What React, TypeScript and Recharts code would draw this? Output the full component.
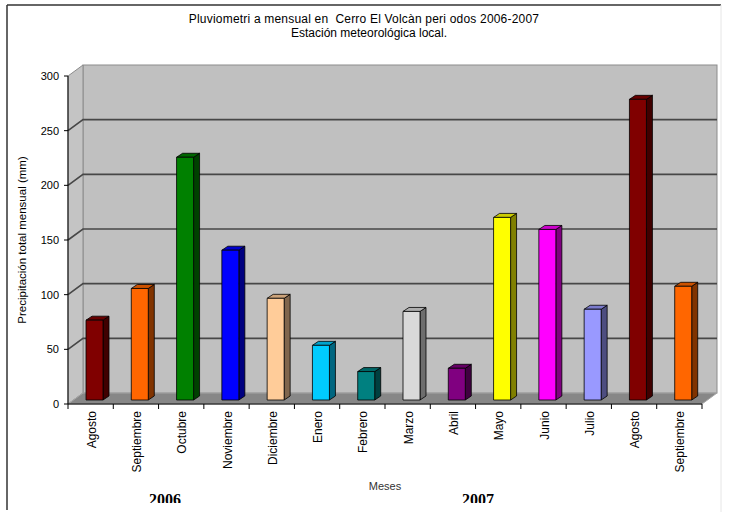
import { BarChart, Bar, XAxis, YAxis, Cell, ReferenceArea } from 'recharts';

// Lluvia mensual (mm), agosto 2006 - septiembre 2007
const MESES = [
  'Agosto', 'Septiembre', 'Octubre', 'Noviembre', 'Diciembre',
  'Enero', 'Febrero', 'Marzo', 'Abril', 'Mayo', 'Junio', 'Julio', 'Agosto', 'Septiembre',
];
const PRECIPITACION = [73, 102, 222, 137, 93, 50, 26, 81, 29, 167, 156, 83, 275, 104];
const COLORES = [
  '#800000', '#ff6600', '#008000', '#0000ff', '#ffcc99', '#00ccff', '#008080',
  '#d9d9d9', '#800080', '#ffff00', '#ff00ff', '#9999ff', '#800000', '#ff6600',
];
const Y_TICKS = [0, 50, 100, 150, 200, 250, 300];
const ANIOS = [
  { texto: '2006', x: 165 },
  { texto: '2007', x: 478 },
];

const FONT = '"Liberation Sans", Arial, sans-serif';
const Y_MAX = 300;

// profundidad de las paredes y de las cajas
const WALL_DX = 15;
const WALL_DY = -11;
const BAR_SHIFT = 4;
const BAR_DX = 6;
const BAR_DY = -4;

const datos = MESES.map((mes, i) => ({ mes, mm: PRECIPITACION[i] }));

function shade(hex: string, f: number) {
  const n = parseInt(hex.slice(1), 16);
  const r = Math.round(((n >> 16) & 255) * f);
  const g = Math.round(((n >> 8) & 255) * f);
  const b = Math.round((n & 255) * f);
  return `rgb(${r},${g},${b})`;
}

function Paredes(props: any) {
  const { x, y, width, height } = props;
  const r = x + width;
  const b = y + height;
  const grid = Y_TICKS.filter((v) => v > 0 && v < Y_MAX);
  return (
    <g>
      <rect x={x + WALL_DX} y={y + WALL_DY} width={width} height={height} fill="#c0c0c0" stroke="#8c8c8c" strokeWidth={1} />
      <polygon
        points={`${x},${y} ${x + WALL_DX},${y + WALL_DY} ${x + WALL_DX},${b + WALL_DY} ${x},${b}`}
        fill="#c4c4c4"
        stroke="#8c8c8c"
        strokeWidth={1}
      />
      <polygon
        points={`${x},${b} ${x + WALL_DX},${b + WALL_DY} ${r + WALL_DX},${b + WALL_DY} ${r},${b}`}
        fill="#878787"
        stroke="#a6a6a6"
        strokeWidth={1}
      />
      {grid.map((v) => {
        const yy = b - (height * v) / Y_MAX;
        return (
          <polyline
            key={v}
            points={`${x},${yy} ${x + WALL_DX},${yy + WALL_DY} ${r + WALL_DX},${yy + WALL_DY}`}
            fill="none"
            stroke="#474747"
            strokeWidth={1.6}
          />
        );
      })}
    </g>
  );
}

function Barra3D(props: any) {
  const { x, y, width, height, fill } = props;
  if (!height) return null;
  const fx = x + BAR_SHIFT;
  const fy = y - BAR_SHIFT;
  const fb = fy + height;
  const r = fx + width;
  return (
    <g stroke="#000" strokeWidth={0.8} strokeLinejoin="round">
      <polygon
        points={`${r},${fy} ${r + BAR_DX},${fy + BAR_DY} ${r + BAR_DX},${fb + BAR_DY} ${r},${fb}`}
        fill={shade(fill, 0.5)}
      />
      <polygon
        points={`${fx},${fy} ${fx + BAR_DX},${fy + BAR_DY} ${r + BAR_DX},${fy + BAR_DY} ${r},${fy}`}
        fill={shade(fill, 0.8)}
      />
      <rect x={fx} y={fy} width={width} height={height} fill={fill} />
    </g>
  );
}

function MesTick(props: any) {
  const { x, y, payload, index, visibleTicksCount, width } = props;
  const half = payload?.offset || width / visibleTicksCount / 2;
  const left = x - half;
  const tx = x + 1;
  const ty = y + 7;
  return (
    <g>
      <line x1={left} y1={y} x2={left} y2={y + 5} stroke="#000" />
      {index === visibleTicksCount - 1 && <line x1={x + half} y1={y} x2={x + half} y2={y + 5} stroke="#000" />}
      <text
        x={tx}
        y={ty}
        transform={`rotate(-90, ${tx}, ${ty})`}
        textAnchor="end"
        dominantBaseline="central"
        fontSize={12}
        fontFamily={FONT}
        fill="#000"
      >
        {payload.value}
      </text>
    </g>
  );
}

export default function App() {
  return (
    <div style={{ position: 'absolute', left: 0, top: 0, width: 729, height: 512, background: '#fff' }}>
      <BarChart width={729} height={512} data={datos} margin={{ top: 76, right: 27, left: 8, bottom: 8 }}>
        <ReferenceArea y1={0} y2={Y_MAX} ifOverflow="visible" shape={<Paredes />} />
        <XAxis
          dataKey="mes"
          interval={0}
          height={100}
          tickLine={false}
          tickSize={0}
          tickMargin={0}
          axisLine={{ stroke: '#000' }}
          tick={<MesTick />}
          label={{ value: 'Meses', position: 'insideBottom', offset: 14, fontSize: 11, fill: '#333', fontFamily: FONT }}
        />
        <YAxis
          domain={[0, Y_MAX]}
          ticks={Y_TICKS}
          width={60}
          tickSize={4}
          tickMargin={5}
          axisLine={{ stroke: '#000' }}
          tickLine={{ stroke: '#000' }}
          tick={{ fontSize: 11, fill: '#000', fontFamily: FONT }}
          label={{
            value: 'Precipitación total mensual (mm)',
            angle: -90,
            position: 'insideLeft',
            offset: 14,
            fontSize: 11.5,
            fill: '#000',
            fontFamily: FONT,
            style: { textAnchor: 'middle' },
          }}
        />
        <Bar dataKey="mm" barSize={17} shape={<Barra3D />} isAnimationActive={false}>
          {datos.map((d, i) => (
            <Cell key={i} fill={COLORES[i]} />
          ))}
        </Bar>
      </BarChart>
      <svg width={729} height={512} style={{ position: 'absolute', left: 0, top: 0, pointerEvents: 'none' }}>
        <defs>
          <clipPath id="corte">
            <rect x={0} y={0} width={729} height={503} />
          </clipPath>
        </defs>
        <line x1={7} y1={5} x2={721} y2={5} stroke="#333" strokeWidth={1.5} />
        <line x1={7} y1={5} x2={7} y2={510} stroke="#333" strokeWidth={1.5} />
        <line x1={721} y1={5} x2={721} y2={512} stroke="#e6e6e6" strokeWidth={1} />
        <text
          x={364}
          y={23}
          textAnchor="middle"
          fontSize={12}
          letterSpacing={0.2}
          xmlSpace="preserve"
          fontFamily={FONT}
          fill="#000"
        >
          Pluviometri a mensual en  Cerro El Volcàn peri odos 2006-2007
        </text>
        <text x={369} y={37} textAnchor="middle" fontSize={12} fontFamily={FONT} fill="#000">
          Estación meteorológica local.
        </text>
        <g clipPath="url(#corte)">
          {ANIOS.map((a) => (
            <text
              key={a.texto}
              x={a.x}
              y={505}
              textAnchor="middle"
              fontSize={16}
              fontWeight="bold"
              fontFamily='"Liberation Serif", "Times New Roman", serif'
              fill="#000"
            >
              {a.texto}
            </text>
          ))}
        </g>
      </svg>
    </div>
  );
}
